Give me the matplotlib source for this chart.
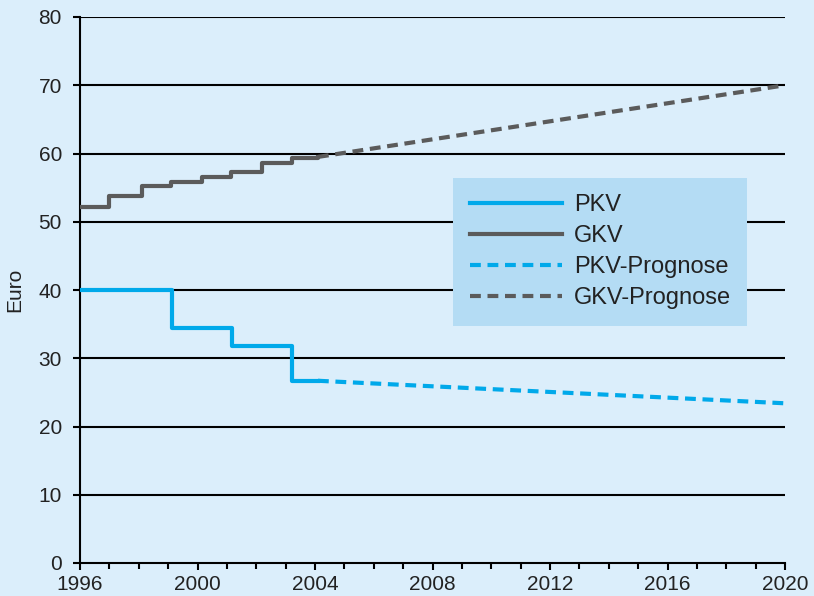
import matplotlib.pyplot as plt
from matplotlib.ticker import MultipleLocator

# Data
gkv_years = [1996, 1997.0, 1998.1, 1999.1, 2000.15, 2001.15, 2002.2, 2003.2, 2004.1]
gkv_values = [52.2, 53.7, 55.2, 55.8, 56.6, 57.3, 58.6, 59.4, 59.5]
pkv_years = [1996, 1999.13, 2001.17, 2003.2, 2004.1]
pkv_values = [40.0, 34.5, 31.8, 26.7, 26.7]
prog_years = [2004.1, 2020]
gkv_prog = [59.5, 70.0]
pkv_prog = [26.7, 23.4]

bg = '#dbeefb'
blue = '#00a9ea'
gray = '#5b5b5b'

plt.rcParams['font.family'] = ['Liberation Sans', 'DejaVu Sans']

fig = plt.figure(figsize=(8.14, 5.96), dpi=100, facecolor=bg)
ax = fig.add_axes([80 / 814, 1 - 563 / 596, 705 / 814, 546 / 596], facecolor=bg)

ax.plot(pkv_years, pkv_values, drawstyle='steps-post', color=blue, lw=3, label='PKV', zorder=3)
ax.plot(gkv_years, gkv_values, drawstyle='steps-post', color=gray, lw=3, label='GKV', zorder=3)
ax.plot(prog_years, pkv_prog, color=blue, lw=3, dashes=(2.6, 1.6), dash_capstyle='butt',
        label='PKV-Prognose', zorder=3)
ax.plot(prog_years, gkv_prog, color=gray, lw=3, dashes=(2.6, 1.6), dash_capstyle='butt',
        label='GKV-Prognose', zorder=3)

ax.set_xlim(1996, 2020)
ax.set_ylim(0, 80)
ax.xaxis.set_major_locator(MultipleLocator(4))
ax.xaxis.set_minor_locator(MultipleLocator(1))
ax.yaxis.set_major_locator(MultipleLocator(10))

for y in range(10, 81, 10):
    ax.axhline(y, color='black', lw=1.5, zorder=1)

for s in ['top', 'right']:
    ax.spines[s].set_visible(False)
for s in ['left', 'bottom']:
    ax.spines[s].set_linewidth(1.5)
    ax.spines[s].set_color('black')

ax.tick_params(axis='both', which='major', length=5, width=1.5, labelsize=15,
               labelcolor='#222222')
ax.tick_params(axis='x', which='major', pad=4)
ax.tick_params(axis='y', which='major', pad=8)
ax.tick_params(axis='x', which='minor', length=4, width=1.5)
ax.set_ylabel('Euro', fontsize=15, color='#222222', labelpad=10)

leg = ax.legend(loc='center', bbox_to_anchor=(0.738, 0.57), fontsize=17,
                frameon=True, fancybox=False, handlelength=3.9, handletextpad=0.5,
                borderpad=0.7, labelspacing=0.38)
leg.get_frame().set_facecolor('#b4dcf4')
leg.get_frame().set_edgecolor('none')
leg.get_frame().set_alpha(1)
for t in leg.get_texts():
    t.set_color('#222222')

plt.savefig('out.png', dpi=100, facecolor=bg)
